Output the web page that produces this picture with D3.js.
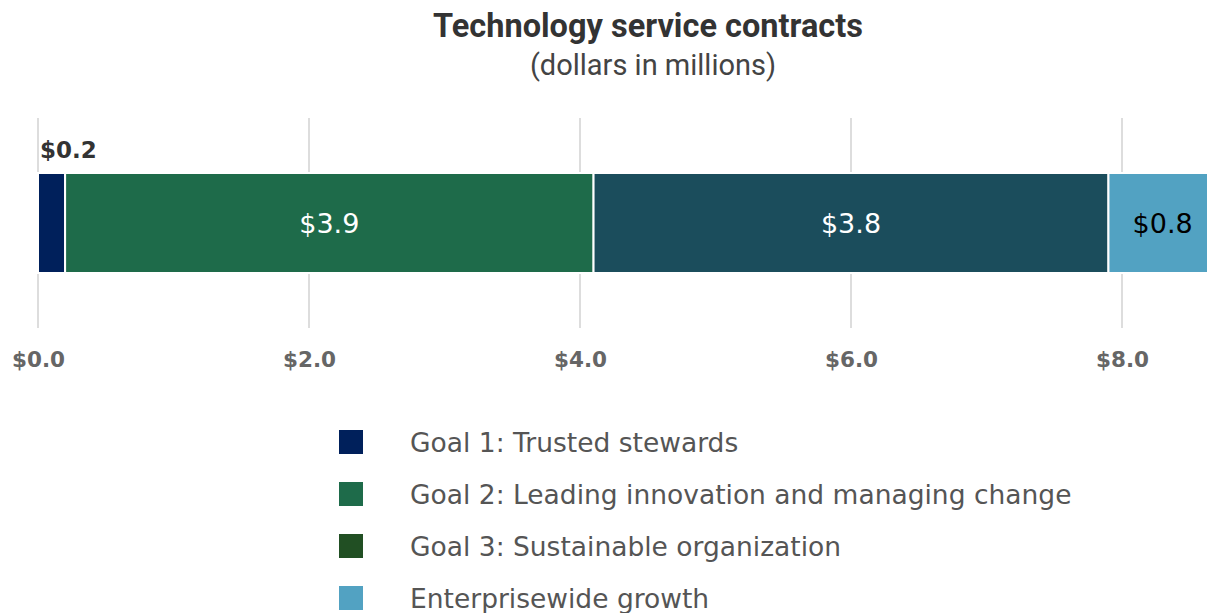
<!DOCTYPE html>
<html><head><meta charset="utf-8">
<script src="https://cdn.jsdelivr.net/npm/d3@7"></script>
<style>html,body{margin:0;padding:0;background:#fff;overflow:hidden}</style>
</head><body>
<svg id="chart" width="1207" height="613"></svg>
<script>
const categories = ["Goal 1: Trusted stewards", "Goal 2: Leading innovation and managing change", "Goal 3: Sustainable organization", "Enterprisewide growth"];
const values = [0.2, 3.9, 3.8, 0.8];
const barColors = ["#00205b", "#1e6b4a", "#1b4d5c", "#52a2c2"];
const legendColors = ["#00205b", "#1e6b4a", "#214f23", "#52a2c2"];
const labelColors = ["#333333", "#ffffff", "#ffffff", "#000000"];
const ticks = [0, 2, 4, 6, 8];

const svg = d3.select("#chart");
const x = d3.scaleLinear().domain([0, 8]).range([38, 1122]);
const y = d3.scaleBand().domain(["row"]).range([118, 328]).paddingInner(0).paddingOuter(0.55);

svg.append("text").attr("x", 648).attr("y", 37).attr("text-anchor", "middle")
  .style("font-family", "Roboto").style("font-weight", 700).style("font-size", "32.5px").attr("fill", "#333")
  .text("Technology service contracts");
svg.append("text").attr("x", 653).attr("y", 75).attr("text-anchor", "middle")
  .style("font-family", "Roboto").style("font-size", "29px").attr("fill", "#444")
  .text("(dollars in millions)");

// grid
svg.append("g").selectAll("line").data(ticks).join("line")
  .attr("x1", d => x(d)).attr("x2", d => x(d)).attr("y1", 118).attr("y2", 328)
  .attr("stroke", "#dddddd").attr("stroke-width", 2);

// axis labels
const axis = d3.axisBottom(x).tickValues(ticks).tickFormat(d => "$" + d3.format(".1f")(d)).tickSize(0);
const ag = svg.append("g").attr("transform", "translate(0,349)").call(axis);
ag.select(".domain").remove();
ag.selectAll("text").style("font-family", "DejaVu Sans").style("font-weight", "bold")
  .style("font-size", "21.5px").attr("fill", "#666");

// stacked segments
let acc = 0;
const segs = values.map((v, i) => { const s = {i, v, x0: acc, x1: acc + v}; acc += v; return s; });
const bt = y("row"), bh = y.bandwidth();
svg.append("g").selectAll("rect").data(segs).join("rect")
  .attr("x", d => x(d.x0)).attr("width", d => x(d.x1) - x(d.x0))
  .attr("y", bt).attr("height", bh)
  .attr("fill", d => barColors[d.i]).attr("stroke", "#fff").attr("stroke-width", 2);

svg.append("g").selectAll("text").data(segs).join("text")
  .attr("x", d => d.i === 0 ? x(d.x0) + 2 : (x(d.x0) + x(d.x1)) / 2)
  .attr("y", d => d.i === 0 ? bt - 15 : bt + bh / 2 + 10)
  .attr("text-anchor", d => d.i === 0 ? "start" : "middle")
  .style("font-family", "DejaVu Sans")
  .style("font-weight", d => d.i === 0 ? "bold" : "normal")
  .style("font-size", d => d.i === 0 ? "23px" : "27px")
  .attr("fill", d => labelColors[d.i])
  .text(d => "$" + d3.format(".1f")(d.v));

// legend
const lg = svg.append("g").selectAll("g").data(categories).join("g")
  .attr("transform", (d, i) => `translate(339,${430 + i * 52})`);
lg.append("rect").attr("width", 24).attr("height", 24).attr("fill", (d, i) => legendColors[i]);
lg.append("text").attr("x", 71).attr("y", 22)
  .style("font-family", "DejaVu Sans").style("font-size", "26.5px").attr("fill", "#555")
  .text(d => d);
</script>
</body></html>
